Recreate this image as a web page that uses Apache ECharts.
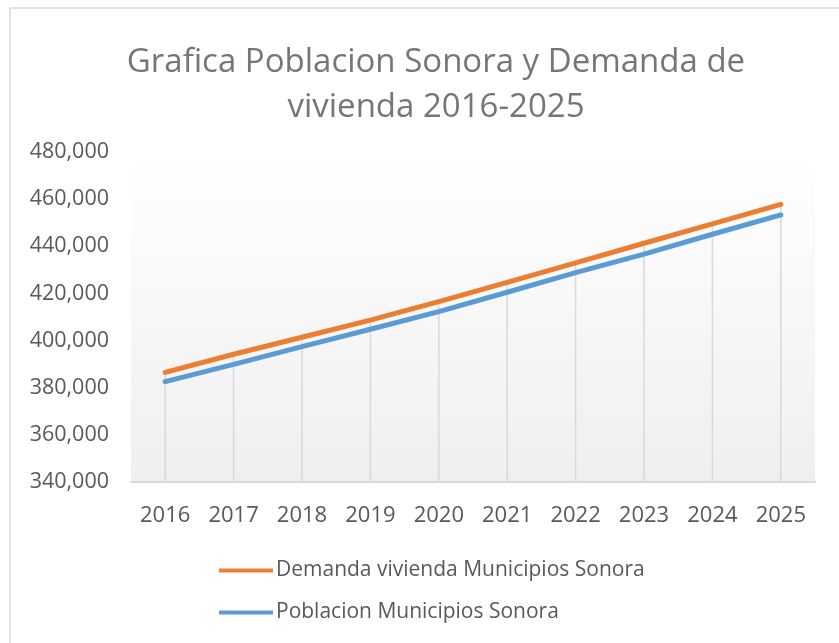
<!DOCTYPE html>
<html>
<head>
<meta charset="utf-8">
<script src="https://cdn.jsdelivr.net/npm/echarts@6/dist/echarts.min.js"></script>
<style>
  html, body { margin: 0; padding: 0; background: #fff; }
  #chart { width: 839px; height: 643px; }
</style>
</head>
<body>
<div id="chart"></div>
<script>
const years = ['2016', '2017', '2018', '2019', '2020', '2021', '2022', '2023', '2024', '2025'];
const demanda = [386500, 394200, 401400, 408700, 416500, 424700, 433000, 441300, 449500, 457800];
const poblacion = [382600, 389900, 397400, 404800, 412300, 420500, 428800, 436700, 445100, 453300];
const yTicks = { min: 340000, max: 480000, step: 20000 };

const chart = echarts.init(document.getElementById('chart'));
const font = '"Open Sans", sans-serif';

// drop lines from the axis up to the higher series
const dropTops = demanda.map((v, i) => Math.max(v, poblacion[i]));

const option = {
    backgroundColor: '#fff',
    title: {
        text: 'Grafica Poblacion Sonora y Demanda de\nvivienda 2016-2025',
        left: 436,
        textAlign: 'center',
        top: 40,
        padding: 0,
        textStyle: {
            fontFamily: font,
            fontSize: 33,
            fontWeight: 'normal',
            color: '#767676',
            lineHeight: 45
        }
    },
    graphic: [{
        type: 'rect',
        shape: { x: 10, y: 8, width: 900, height: 700 },
        style: { fill: 'none', stroke: '#d9d9d9', lineWidth: 1.5 },
        silent: true
    }],
    legend: {
        orient: 'vertical',
        left: 214,
        top: 555,
        itemGap: 21,
        icon: 'rect',
        itemWidth: 54,
        itemHeight: 4,
        data: ['Demanda vivienda Municipios Sonora', 'Poblacion Municipios Sonora'],
        textStyle: { fontFamily: font, fontSize: 21, color: '#595959', padding: [0, 0, 0, -2] }
    },
    grid: {
        left: 131,
        right: 24,
        top: 152,
        bottom: 161,
        show: true,
        borderWidth: 0,
        backgroundColor: {
            type: 'linear', x: 0, y: 0, x2: 0, y2: 1,
            colorStops: [
                { offset: 0, color: '#ffffff' },
                { offset: 1, color: '#efefef' }
            ]
        }
    },
    xAxis: {
        type: 'category',
        data: years,
        boundaryGap: true,
        axisTick: { show: false },
        axisLine: { lineStyle: { color: '#d9d9d9', width: 2 } },
        axisLabel: { fontFamily: font, fontSize: 22, color: '#595959', margin: 23 },
        splitLine: { show: false }
    },
    yAxis: {
        type: 'value',
        min: yTicks.min,
        max: yTicks.max,
        interval: yTicks.step,
        axisLine: { show: false },
        axisTick: { show: false },
        splitLine: { show: false },
        axisLabel: {
            fontFamily: font,
            fontSize: 21.5,
            color: '#595959',
            margin: 22,
            formatter: v => v.toLocaleString('en-US')
        }
    },
    series: [
        {
            name: 'drop',
            type: 'custom',
            silent: true,
            z: 1,
            data: dropTops.map((v, i) => [i, v]),
            renderItem: (params, api) => {
                const top = api.coord([api.value(0), api.value(1)]);
                const bottom = api.coord([api.value(0), yTicks.min]);
                return {
                    type: 'line',
                    shape: { x1: top[0], y1: top[1], x2: bottom[0], y2: bottom[1] },
                    style: { stroke: '#d9d9d9', lineWidth: 1.5 }
                };
            }
        },
        {
            name: 'Demanda vivienda Municipios Sonora',
            type: 'line',
            data: demanda,
            symbol: 'none',
            z: 3,
            itemStyle: { color: '#ed7d31' },
            lineStyle: { color: '#ed7d31', width: 5, cap: 'round' }
        },
        {
            name: 'Poblacion Municipios Sonora',
            type: 'line',
            data: poblacion,
            symbol: 'none',
            z: 3,
            itemStyle: { color: '#5b9bd5' },
            lineStyle: { color: '#5b9bd5', width: 5, cap: 'round' }
        }
    ]
};

chart.setOption(option);
</script>
</body>
</html>
